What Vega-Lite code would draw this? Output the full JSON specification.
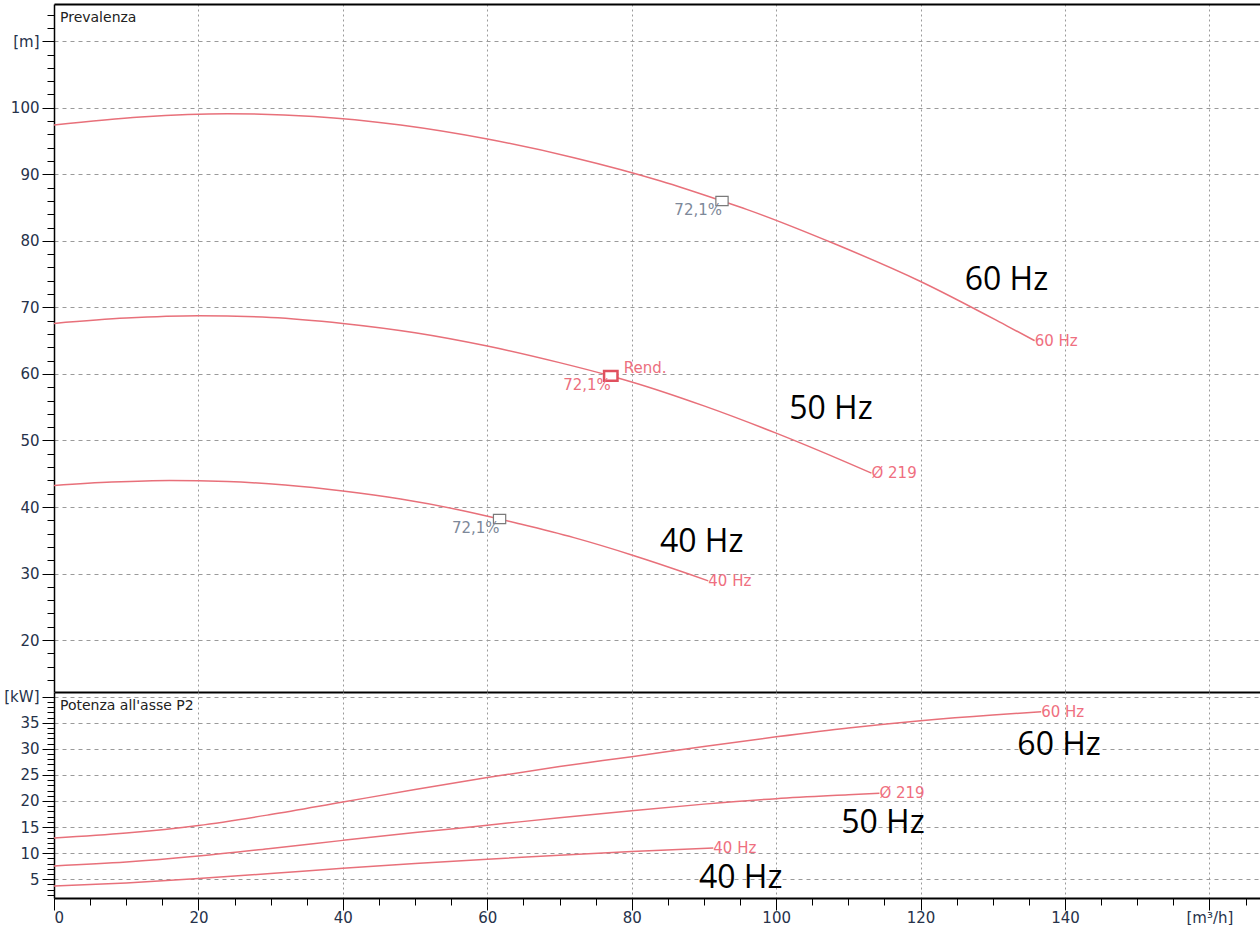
{
  "$schema": "https://vega.github.io/schema/vega-lite/v6.json",
  "background": "white",
  "padding": {"left": 0, "top": 4, "right": 0, "bottom": 0},
  "spacing": 0,
  "bounds": "flush",
  "config": {
    "view": {"stroke": null},
    "axis": {"labelFont": "DejaVu Sans", "labelFontSize": 15, "labelColor": "#26324a", "tickColor": "#000000", "domainColor": "#000000", "gridColor": "#9a9a9a", "gridOpacity": 1, "title": null}
  },
  "datasets": {
    "head": [
      {"curve": "60 Hz", "Q": 0, "H": 97.4}, {"curve": "60 Hz", "Q": 12, "H": 98.6}, {"curve": "60 Hz", "Q": 24, "H": 99.1}, {"curve": "60 Hz", "Q": 36, "H": 98.7}, {"curve": "60 Hz", "Q": 48, "H": 97.4}, {"curve": "60 Hz", "Q": 60, "H": 95.3}, {"curve": "60 Hz", "Q": 72, "H": 92.5}, {"curve": "60 Hz", "Q": 84, "H": 89.0}, {"curve": "60 Hz", "Q": 92.5, "H": 86.0}, {"curve": "60 Hz", "Q": 96, "H": 84.7}, {"curve": "60 Hz", "Q": 108, "H": 79.6}, {"curve": "60 Hz", "Q": 120, "H": 73.9}, {"curve": "60 Hz", "Q": 132, "H": 67.2}, {"curve": "60 Hz", "Q": 135.8, "H": 65.0},
      {"curve": "50 Hz", "Q": 0, "H": 67.6}, {"curve": "50 Hz", "Q": 10, "H": 68.4}, {"curve": "50 Hz", "Q": 20, "H": 68.75}, {"curve": "50 Hz", "Q": 30, "H": 68.5}, {"curve": "50 Hz", "Q": 40, "H": 67.6}, {"curve": "50 Hz", "Q": 50, "H": 66.2}, {"curve": "50 Hz", "Q": 60, "H": 64.2}, {"curve": "50 Hz", "Q": 70, "H": 61.7}, {"curve": "50 Hz", "Q": 77.1, "H": 59.7}, {"curve": "50 Hz", "Q": 80, "H": 58.8}, {"curve": "50 Hz", "Q": 90, "H": 55.2}, {"curve": "50 Hz", "Q": 100, "H": 51.1}, {"curve": "50 Hz", "Q": 110, "H": 46.6}, {"curve": "50 Hz", "Q": 113.2, "H": 45.1},
      {"curve": "40 Hz", "Q": 0, "H": 43.25}, {"curve": "40 Hz", "Q": 8, "H": 43.75}, {"curve": "40 Hz", "Q": 16, "H": 44.0}, {"curve": "40 Hz", "Q": 24, "H": 43.85}, {"curve": "40 Hz", "Q": 32, "H": 43.3}, {"curve": "40 Hz", "Q": 40, "H": 42.4}, {"curve": "40 Hz", "Q": 48, "H": 41.2}, {"curve": "40 Hz", "Q": 56, "H": 39.6}, {"curve": "40 Hz", "Q": 61.7, "H": 38.2}, {"curve": "40 Hz", "Q": 64, "H": 37.6}, {"curve": "40 Hz", "Q": 72, "H": 35.4}, {"curve": "40 Hz", "Q": 80, "H": 32.8}, {"curve": "40 Hz", "Q": 88, "H": 29.9}, {"curve": "40 Hz", "Q": 90.6, "H": 28.9}
    ],
    "power": [
      {"curve": "60 Hz", "Q": 0, "P": 12.9}, {"curve": "60 Hz", "Q": 10, "P": 13.85}, {"curve": "60 Hz", "Q": 20, "P": 15.3}, {"curve": "60 Hz", "Q": 30, "P": 17.4}, {"curve": "60 Hz", "Q": 40, "P": 19.8}, {"curve": "60 Hz", "Q": 50, "P": 22.2}, {"curve": "60 Hz", "Q": 60, "P": 24.5}, {"curve": "60 Hz", "Q": 70, "P": 26.6}, {"curve": "60 Hz", "Q": 80, "P": 28.5}, {"curve": "60 Hz", "Q": 90, "P": 30.45}, {"curve": "60 Hz", "Q": 100, "P": 32.3}, {"curve": "60 Hz", "Q": 110, "P": 34.0}, {"curve": "60 Hz", "Q": 120, "P": 35.4}, {"curve": "60 Hz", "Q": 130, "P": 36.5}, {"curve": "60 Hz", "Q": 136.7, "P": 37.1},
      {"curve": "50 Hz", "Q": 0, "P": 7.55}, {"curve": "50 Hz", "Q": 10, "P": 8.3}, {"curve": "50 Hz", "Q": 20, "P": 9.45}, {"curve": "50 Hz", "Q": 30, "P": 10.9}, {"curve": "50 Hz", "Q": 40, "P": 12.45}, {"curve": "50 Hz", "Q": 50, "P": 13.95}, {"curve": "50 Hz", "Q": 60, "P": 15.35}, {"curve": "50 Hz", "Q": 70, "P": 16.8}, {"curve": "50 Hz", "Q": 80, "P": 18.15}, {"curve": "50 Hz", "Q": 90, "P": 19.4}, {"curve": "50 Hz", "Q": 100, "P": 20.45}, {"curve": "50 Hz", "Q": 110, "P": 21.2}, {"curve": "50 Hz", "Q": 114.3, "P": 21.5},
      {"curve": "40 Hz", "Q": 0, "P": 3.7}, {"curve": "40 Hz", "Q": 10, "P": 4.3}, {"curve": "40 Hz", "Q": 20, "P": 5.15}, {"curve": "40 Hz", "Q": 30, "P": 6.1}, {"curve": "40 Hz", "Q": 40, "P": 7.1}, {"curve": "40 Hz", "Q": 50, "P": 8.0}, {"curve": "40 Hz", "Q": 60, "P": 8.85}, {"curve": "40 Hz", "Q": 70, "P": 9.6}, {"curve": "40 Hz", "Q": 80, "P": 10.3}, {"curve": "40 Hz", "Q": 91.3, "P": 11.0}
    ],
    "bep": [
      {"curve": "60 Hz", "Q": 92.5, "H": 86.0, "kind": "gray", "label": "72,1%"},
      {"curve": "50 Hz", "Q": 77.1, "H": 59.7, "kind": "red", "label": "72,1%"},
      {"curve": "40 Hz", "Q": 61.7, "H": 38.2, "kind": "gray", "label": "72,1%"}
    ],
    "headEnds": [
      {"Q": 135.8, "H": 65.0, "label": "60 Hz"},
      {"Q": 113.2, "H": 45.1, "label": "Ø 219"},
      {"Q": 90.6, "H": 28.9, "label": "40 Hz"}
    ],
    "powerEnds": [
      {"Q": 136.7, "P": 37.1, "label": "60 Hz"},
      {"Q": 114.3, "P": 21.5, "label": "Ø 219"},
      {"Q": 91.3, "P": 11.0, "label": "40 Hz"}
    ],
    "headBig": [
      {"Q": 126.1, "H": 72.6, "label": "60 Hz"},
      {"Q": 101.8, "H": 53.3, "label": "50 Hz"},
      {"Q": 83.9, "H": 33.3, "label": "40 Hz"}
    ],
    "powerBig": [
      {"Q": 133.4, "P": 28.8, "label": "60 Hz"},
      {"Q": 109.0, "P": 13.9, "label": "50 Hz"},
      {"Q": 89.3, "P": 3.3, "label": "40 Hz"}
    ]
  },
  "vconcat": [
    {
      "width": 1206,
      "height": 688,
      "title": {"text": "Prevalenza", "anchor": "start", "frame": "group", "orient": "top", "offset": -21, "dx": 6, "font": "DejaVu Sans", "fontSize": 14, "fontWeight": "normal", "color": "#222222"},
      "resolve": {"axis": {"x": "independent", "y": "independent"}},
      "layer": [
        {
          "data": {"name": "head"},
          "mark": {"type": "line", "color": "#e8707a", "strokeWidth": 1.5, "interpolate": "monotone"},
          "encoding": {
            "x": {"field": "Q", "type": "quantitative", "scale": {"domain": [0, 167], "nice": false, "zero": false},
              "axis": {"orient": "bottom", "values": [20, 40, 60, 80, 100, 120, 140, 160], "labels": false, "ticks": false, "domainWidth": 2, "grid": true, "gridDash": [2, 3], "minExtent": 0, "maxExtent": 0}},
            "y": {"field": "H", "type": "quantitative", "scale": {"domain": [12.2, 115.6], "nice": false, "zero": false},
              "axis": {"orient": "left", "values": [20, 30, 40, 50, 60, 70, 80, 90, 100, 110], "labelExpr": "datum.value == 110 ? '[m]' : datum.label", "tickSize": 12, "labelPadding": 3, "domainWidth": 1.5, "grid": true, "gridDash": [4, 4], "minExtent": 54, "maxExtent": 54}},
            "detail": {"field": "curve"}
          }
        },
        {
          "data": {"name": "bep"},
          "transform": [{"filter": "datum.kind == 'gray'"}],
          "mark": {"type": "point", "shape": "M-1,-0.75H1V0.75H-1Z", "size": 150, "filled": true, "fill": "white", "stroke": "#7a7a7a", "strokeWidth": 1.2, "opacity": 1},
          "encoding": {
            "x": {"field": "Q", "type": "quantitative", "axis": {"orient": "top", "labels": false, "ticks": false, "grid": false, "domainWidth": 2, "minExtent": 0, "maxExtent": 0}},
            "y": {"field": "H", "type": "quantitative",
              "axis": {"orient": "left", "values": [14, 16, 18, 22, 24, 26, 28, 32, 34, 36, 38, 42, 44, 46, 48, 52, 54, 56, 58, 62, 64, 66, 68, 72, 74, 76, 78, 82, 84, 86, 88, 92, 94, 96, 98, 102, 104, 106, 108, 112, 114], "labels": false, "tickSize": 7, "domain": false, "grid": false, "minExtent": 54, "maxExtent": 54}}
          }
        },
        {
          "data": {"name": "bep"},
          "transform": [{"filter": "datum.kind == 'red'"}],
          "mark": {"type": "point", "shape": "M-1,-0.72H1V0.72H-1Z", "size": 180, "filled": true, "fill": "white", "stroke": "#e0505e", "strokeWidth": 2.5, "opacity": 1},
          "encoding": {
            "x": {"field": "Q", "type": "quantitative", "axis": null},
            "y": {"field": "H", "type": "quantitative", "axis": null}
          }
        },
        {
          "data": {"name": "bep"},
          "mark": {"type": "text", "align": "right", "baseline": "middle", "dy": 9, "font": "DejaVu Sans", "fontSize": 15},
          "encoding": {
            "x": {"field": "Q", "type": "quantitative", "axis": null},
            "y": {"field": "H", "type": "quantitative", "axis": null},
            "text": {"field": "label"},
            "color": {"field": "kind", "type": "nominal", "scale": {"domain": ["gray", "red"], "range": ["#7d8899", "#ec6f7e"]}, "legend": null}
          }
        },
        {
          "data": {"name": "bep"},
          "transform": [{"filter": "datum.kind == 'red'"}],
          "mark": {"type": "text", "text": "Rend.", "align": "left", "baseline": "middle", "dx": 13, "dy": -8, "font": "DejaVu Sans", "fontSize": 15, "color": "#ec6f7e"},
          "encoding": {
            "x": {"field": "Q", "type": "quantitative", "axis": null},
            "y": {"field": "H", "type": "quantitative", "axis": null}
          }
        },
        {
          "data": {"name": "headEnds"},
          "mark": {"type": "text", "align": "left", "baseline": "middle", "font": "DejaVu Sans", "fontSize": 15, "color": "#ef6f80"},
          "encoding": {
            "x": {"field": "Q", "type": "quantitative", "axis": null},
            "y": {"field": "H", "type": "quantitative", "axis": null},
            "text": {"field": "label"}
          }
        },
        {
          "data": {"name": "headBig"},
          "mark": {"type": "text", "align": "left", "baseline": "alphabetic", "font": "Open Sans", "fontSize": 32, "color": "#000000"},
          "encoding": {
            "x": {"field": "Q", "type": "quantitative", "axis": null},
            "y": {"field": "H", "type": "quantitative", "axis": null},
            "text": {"field": "label"}
          }
        }
      ]
    },
    {
      "width": 1206,
      "height": 206,
      "title": {"text": "Potenza all'asse P2", "anchor": "start", "frame": "group", "orient": "top", "offset": -23, "dx": 6, "font": "DejaVu Sans", "fontSize": 14, "fontWeight": "normal", "color": "#222222"},
      "resolve": {"axis": {"x": "independent", "y": "independent"}},
      "layer": [
        {
          "data": {"name": "power"},
          "mark": {"type": "line", "color": "#e8707a", "strokeWidth": 1.5, "interpolate": "monotone"},
          "encoding": {
            "x": {"field": "Q", "type": "quantitative", "scale": {"domain": [0, 167], "nice": false, "zero": false},
              "axis": {"orient": "bottom", "values": [0, 20, 40, 60, 80, 100, 120, 140, 160], "labelExpr": "datum.value == 160 ? '[m³/h]' : datum.label", "tickSize": 12, "labelPadding": 0, "domainWidth": 2, "grid": true, "gridDash": [2, 3]}},
            "y": {"field": "P", "type": "quantitative", "scale": {"domain": [1.4, 40.9], "nice": false, "zero": false},
              "axis": {"orient": "left", "values": [5, 10, 15, 20, 25, 30, 35, 40], "labelExpr": "datum.value == 40 ? '[kW]' : datum.label", "tickSize": 12, "labelPadding": 3, "domainWidth": 1.5, "grid": true, "gridDash": [4, 4], "minExtent": 54, "maxExtent": 54}},
            "detail": {"field": "curve"}
          }
        },
        {
          "data": {"name": "powerEnds"},
          "mark": {"type": "text", "align": "left", "baseline": "middle", "font": "DejaVu Sans", "fontSize": 15, "color": "#ef6f80"},
          "encoding": {
            "x": {"field": "Q", "type": "quantitative",
              "axis": {"orient": "bottom", "values": [5, 10, 15, 25, 30, 35, 45, 50, 55, 65, 70, 75, 85, 90, 95, 105, 110, 115, 125, 130, 135, 145, 150, 155, 165], "labels": false, "tickSize": 7, "domain": false, "grid": false}},
            "y": {"field": "P", "type": "quantitative",
              "axis": {"orient": "left", "values": [2, 3, 4, 6, 7, 8, 9, 11, 12, 13, 14, 16, 17, 18, 19, 21, 22, 23, 24, 26, 27, 28, 29, 31, 32, 33, 34, 36, 37, 38, 39], "labels": false, "tickSize": 7, "domain": false, "grid": false, "minExtent": 54, "maxExtent": 54}},
            "text": {"field": "label"}
          }
        },
        {
          "data": {"name": "powerBig"},
          "mark": {"type": "text", "align": "left", "baseline": "alphabetic", "font": "Open Sans", "fontSize": 32, "color": "#000000"},
          "encoding": {
            "x": {"field": "Q", "type": "quantitative", "axis": null},
            "y": {"field": "P", "type": "quantitative", "axis": null},
            "text": {"field": "label"}
          }
        }
      ]
    }
  ]
}
